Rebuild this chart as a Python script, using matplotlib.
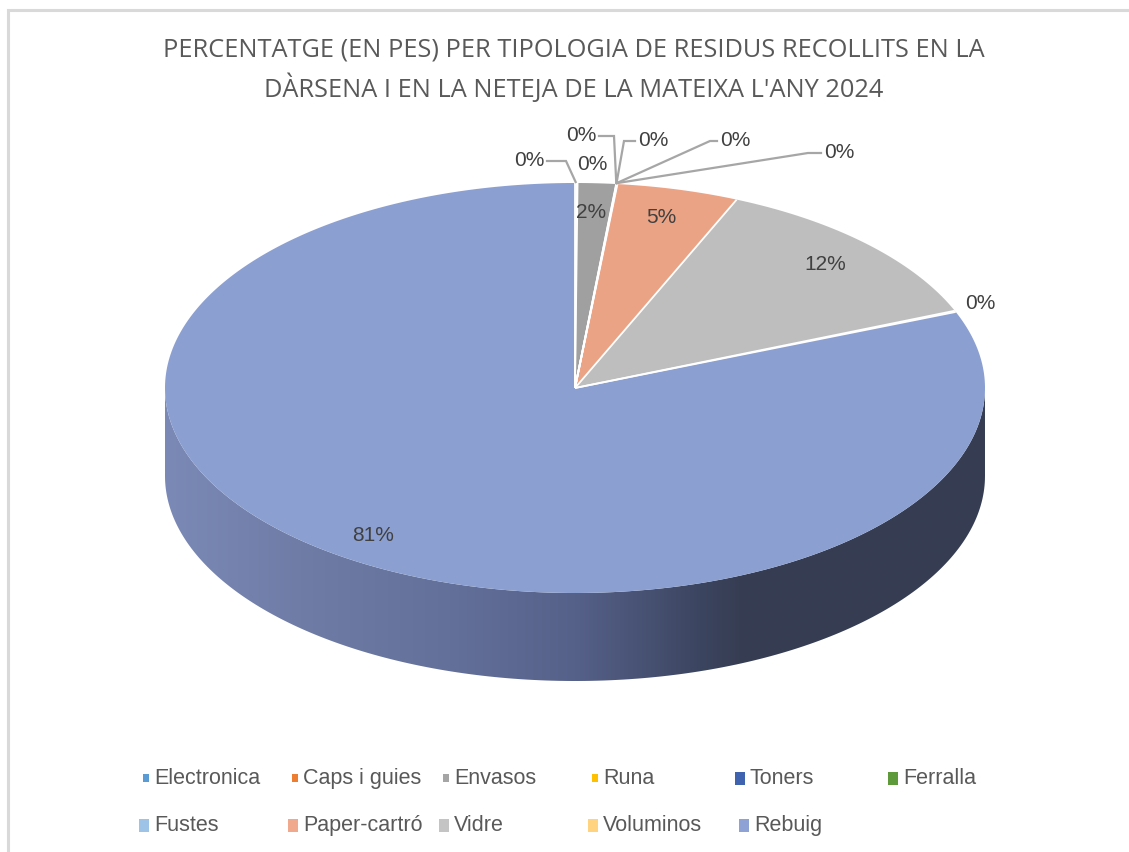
import numpy as np
import matplotlib
matplotlib.use("Agg")
import matplotlib.pyplot as plt
from matplotlib.patches import Polygon, Rectangle
from matplotlib import font_manager as fm

# ---------------- data ----------------
categories = ["Electronica", "Caps i guies", "Envasos", "Runa", "Toners", "Ferralla",
              "Fustes", "Paper-cartró", "Vidre", "Voluminos", "Rebuig"]
values = [0.05, 0.05, 1.5, 0.01, 0.01, 0.01, 0.02, 4.8, 12.4, 0.1, 81.05]
legend_colors = ["#5B9BD5", "#ED7D31", "#A5A5A5", "#FFC000", "#3F63AE", "#5E9A3A",
                 "#9DC3E6", "#F0A98C", "#C4C4C4", "#FFD37F", "#8FA2D6"]
face_colors = ["#5B9BD5", "#ED7D31", "#A0A0A0", "#FFC000", "#3F63AE", "#5E9A3A",
               "#9DC3E6", "#EBA386", "#BEBEBE", "#FFD37F", "#8B9FD1"]
title_lines = ["PERCENTATGE (EN PES) PER TIPOLOGIA DE RESIDUS RECOLLITS EN LA",
               "DÀRSENA I EN LA NETEJA DE LA MATEIXA L'ANY 2024"]

# ---------------- fonts ----------------
names = {f.name for f in fm.fontManager.ttflist}
base_font = "Liberation Sans" if "Liberation Sans" in names else "DejaVu Sans"

# ---------------- layout ----------------
W, H = 1129, 853
fig = plt.figure(figsize=(W / 100, H / 100), dpi=100)
ax = fig.add_axes([0, 0, 1, 1])
ax.set_xlim(0, W)
ax.set_ylim(H, 0)
renderer = fig.canvas.get_renderer()

# choose the narrowest available sans font for the (condensed, Calibri-like) title
cands = [c for c in ["Liberation Sans Narrow", "Roboto", "Lato", "Liberation Sans",
                     "Noto Sans", "Open Sans"] if c in names] or ["DejaVu Sans"]
best, best_ratio = cands[0], 1e9
for c in cands:
    t = ax.text(0, 0, title_lines[0], fontsize=20, family=c)
    bb = t.get_window_extent(renderer)
    tc = ax.text(0, 0, "E", fontsize=20, family=c)
    bc = tc.get_window_extent(renderer)
    cap = fm.FontProperties(family=c)
    ratio = bb.width / 20.0
    t.remove(); tc.remove()
    if ratio < best_ratio:
        best, best_ratio = c, ratio
title_font = best
target_w = 822.0
title_fs = min(20.0, target_w / best_ratio)

cx, cy, rx, ry, depth = 575.0, 389.0, 410.0, 205.0, 88.0


def rim(t, dy=0.0):
    return cx + rx * np.sin(t), cy - ry * np.cos(t) + dy


vals = np.array(values, dtype=float)
frac = vals / vals.sum()
ends = np.cumsum(frac) * 2 * np.pi
starts = ends - frac * 2 * np.pi
mids = (starts + ends) / 2

# ---- side walls (visible half: angles 90..270 deg) ----
grad_x = [165, 300, 450, 575, 700, 745, 985]
grad_c = ["#7B89B6", "#6F7CA6", "#637099", "#56618A", "#3C4560", "#363D52", "#363E53"]
grad_rgb = np.array([matplotlib.colors.to_rgb(c) for c in grad_c])
xs = np.linspace(cx - rx, cx + rx, 600)
img = np.stack([np.interp(xs, grad_x, grad_rgb[:, k]) for k in range(3)], axis=-1)[None, :, :]

for i in range(len(vals)):
    a0 = max(starts[i], np.pi / 2)
    a1 = min(ends[i], 3 * np.pi / 2)
    if a1 <= a0:
        continue
    t = np.linspace(a0, a1, 200)
    top = np.column_stack(rim(t))
    bot = np.column_stack(rim(t[::-1], depth))
    poly = Polygon(np.vstack([top, bot]), closed=True, facecolor="none", edgecolor="none")
    ax.add_patch(poly)
    im = ax.imshow(img, extent=(cx - rx, cx + rx, cy + ry + depth + 2, cy - 2),
                   aspect="auto", interpolation="bilinear", zorder=1)
    im.set_clip_path(poly)

# ---- top face ----
for i in range(len(vals)):
    t = np.linspace(starts[i], ends[i], max(3, int(400 * frac[i]) + 3))
    pts = np.vstack([[cx, cy], np.column_stack(rim(t))])
    ax.add_patch(Polygon(pts, closed=True, facecolor=face_colors[i], edgecolor="none",
                         zorder=2, antialiased=True))
for i in range(len(vals)):
    x1, y1 = rim(starts[i])
    ax.plot([cx, x1], [cy, y1], color="white", lw=1.3, zorder=3, solid_capstyle="butt")

# ---- data labels ----
lab_col = "#404040"
lab_fs = 15
f_in = 0.864
for i in range(len(vals)):
    if round(values[i]) >= 1:
        lx, ly = cx + rx * f_in * np.sin(mids[i]), cy - ry * f_in * np.cos(mids[i])
        ax.text(lx - 3, ly, f"{round(values[i]):.0f}%", ha="center", va="center",
                fontsize=lab_fs, color=lab_col, family=base_font, zorder=5)

# outside labels for the small slices: (text centre x, y, elbow x) - layout only
outside = {0: (529, 160, 566), 1: (592, 164, None), 3: (581, 135, 614),
           4: (653, 140, 624), 5: (735, 140, 710), 6: (839, 152, 808), 9: (980, 303, None)}
lead_col = "#A6A6A6"
for i, (tx, ty, ex) in outside.items():
    ax.text(tx, ty, f"{round(values[i]):.0f}%", ha="center", va="center",
            fontsize=lab_fs, color=lab_col, family=base_font, zorder=5)
    if ex is None:
        continue
    ax0, ay0 = rim(mids[i])
    side = 1 if ex > tx else -1
    hx = tx + side * 18
    ly = ty + 2
    ax.plot([ax0, ex, hx], [ay0 - 1, ly, ly], color=lead_col, lw=1.6, zorder=4,
            solid_joinstyle="miter")

# ---- title ----
title_col = "#595959"
ax.text(574, 50, title_lines[0], ha="center", va="center", fontsize=title_fs,
        color=title_col, family=title_font)
ax.text(574, 88, title_lines[1], ha="center", va="center", fontsize=title_fs,
        color=title_col, family=title_font)

# ---- legend ----
leg_x = [154, 303, 454, 603, 750, 903, 154, 303, 454, 603, 754]
leg_y = [779, 779, 779, 779, 779, 779, 826, 826, 826, 826, 826]
small = [True, True, True, True, False, False, False, False, False, False, False]
for i, name in enumerate(categories):
    if small[i]:
        w, h = 6, 8
    else:
        w, h = 10, 13
    ax.add_patch(Rectangle((leg_x[i] - 5 - w, leg_y[i] - h / 2), w, h,
                           facecolor=legend_colors[i], edgecolor="none", zorder=5))
    ax.text(leg_x[i], leg_y[i], name, ha="left", va="center", fontsize=15.5,
            color=title_col, family=base_font)

# ---- chart frame ----
ax.plot([7.5, 7.5, W], [H, 10.5, 10.5], color="#D9D9D9", lw=2.2, zorder=6,
        solid_joinstyle="miter")

ax.set_xlim(0, W)
ax.set_ylim(H, 0)
ax.axis("off")
fig.savefig("out.png", dpi=100, facecolor="white")
